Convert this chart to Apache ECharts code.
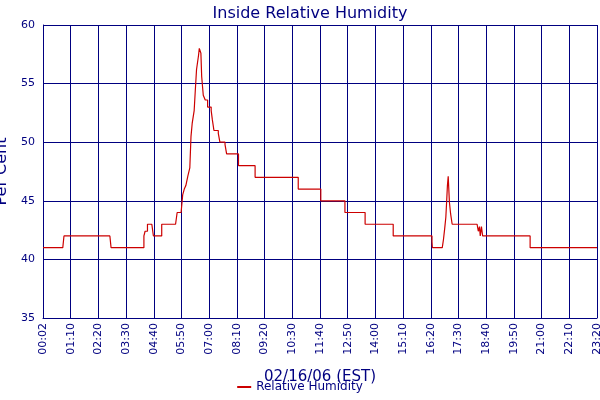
<!DOCTYPE html>
<html><head><meta charset="utf-8">
<script src="https://cdn.jsdelivr.net/npm/echarts@6/dist/echarts.min.js"></script>
<style>html,body{margin:0;padding:0;background:#fff}#c{width:600px;height:400px}</style>
</head><body><div id="c"></div>
<script>
// minutes since midnight (00:02 plotted at axis start)
var times = [0,50,53,169,172,249,255,258,264,275,279,294,300,335,339,349,353,357,361,366,371,374,377,382,385,388,393,395,399,401,405,410,416,425,428,432,443,447,460,464,494,536,645,702,763,814,885,983,984,1009,1012,1015,1018,1020,1022,1024,1027,1030,1034,1097,1100,1103,1105,1108,1111,1231,1400];
var values = [41,41,42,42,41,41,42,42.4,43,43,42,42,43,43,44,44,45.5,46,46.3,47.1,47.8,50.5,51.6,52.7,54.5,56.2,57.4,58,57.6,55.6,54,53.6,53,52.7,51.9,51,50.75,50,49.8,49,48,47,46,45,44,43,42,41.5,41,41,41.7,42.6,43.6,44.9,46.3,47.1,44.9,43.9,43,43,42.4,42.8,42,42.8,42,41,41];
var seriesName = 'Relative Humidity';
var titleText = 'Inside Relative Humidity';
var xName = '02/16/06 (EST)';
var yName = 'Per Cent';

var navy = '#000080';
var pts = times.map(function(t,i){return [t, values[i]];});
function fmt(v){
  if (v === 0) return '00:02';
  var h = Math.floor(v/60), m = v%60;
  return (h<10?'0':'')+h+':'+(m<10?'0':'')+m;
}
var chart = echarts.init(document.getElementById('c'));
chart.setOption({
  animation:false,
  textStyle:{fontFamily:'DejaVu Sans'},
  title:{text:titleText,left:305,top:1,textAlign:'center',textStyle:{color:navy,fontSize:16,fontWeight:'normal',fontFamily:'DejaVu Sans'}},
  legend:{bottom:2,left:'center',itemWidth:14,itemHeight:2,icon:'rect',textStyle:{color:navy,fontSize:12},data:[seriesName]},
  grid:{left:43,right:3,top:25,bottom:82,containLabel:false,outerBoundsMode:'none'},
  xAxis:{type:'value',min:0,max:1400,interval:70,
    name:xName,nameLocation:'middle',nameGap:52,nameTextStyle:{color:navy,fontSize:15},
    axisLine:{lineStyle:{color:navy}},axisTick:{show:false},
    axisLabel:{rotate:90,color:navy,fontSize:11,formatter:fmt,margin:5},
    splitLine:{show:true,lineStyle:{color:navy,width:1}}},
  yAxis:{type:'value',min:35,max:60,interval:5,
    name:yName,nameLocation:'middle',nameGap:32,nameTextStyle:{color:navy,fontSize:16},
    axisLine:{show:true,lineStyle:{color:navy}},axisTick:{show:false},
    axisLabel:{color:navy,fontSize:11,margin:8},
    splitLine:{show:true,lineStyle:{color:navy,width:1}}},
  series:[{name:seriesName,type:'line',step:'end',data:pts,showSymbol:false,
    lineStyle:{color:'#cc0000',width:1.2},itemStyle:{color:'#cc0000'}}]
});
</script></body></html>
